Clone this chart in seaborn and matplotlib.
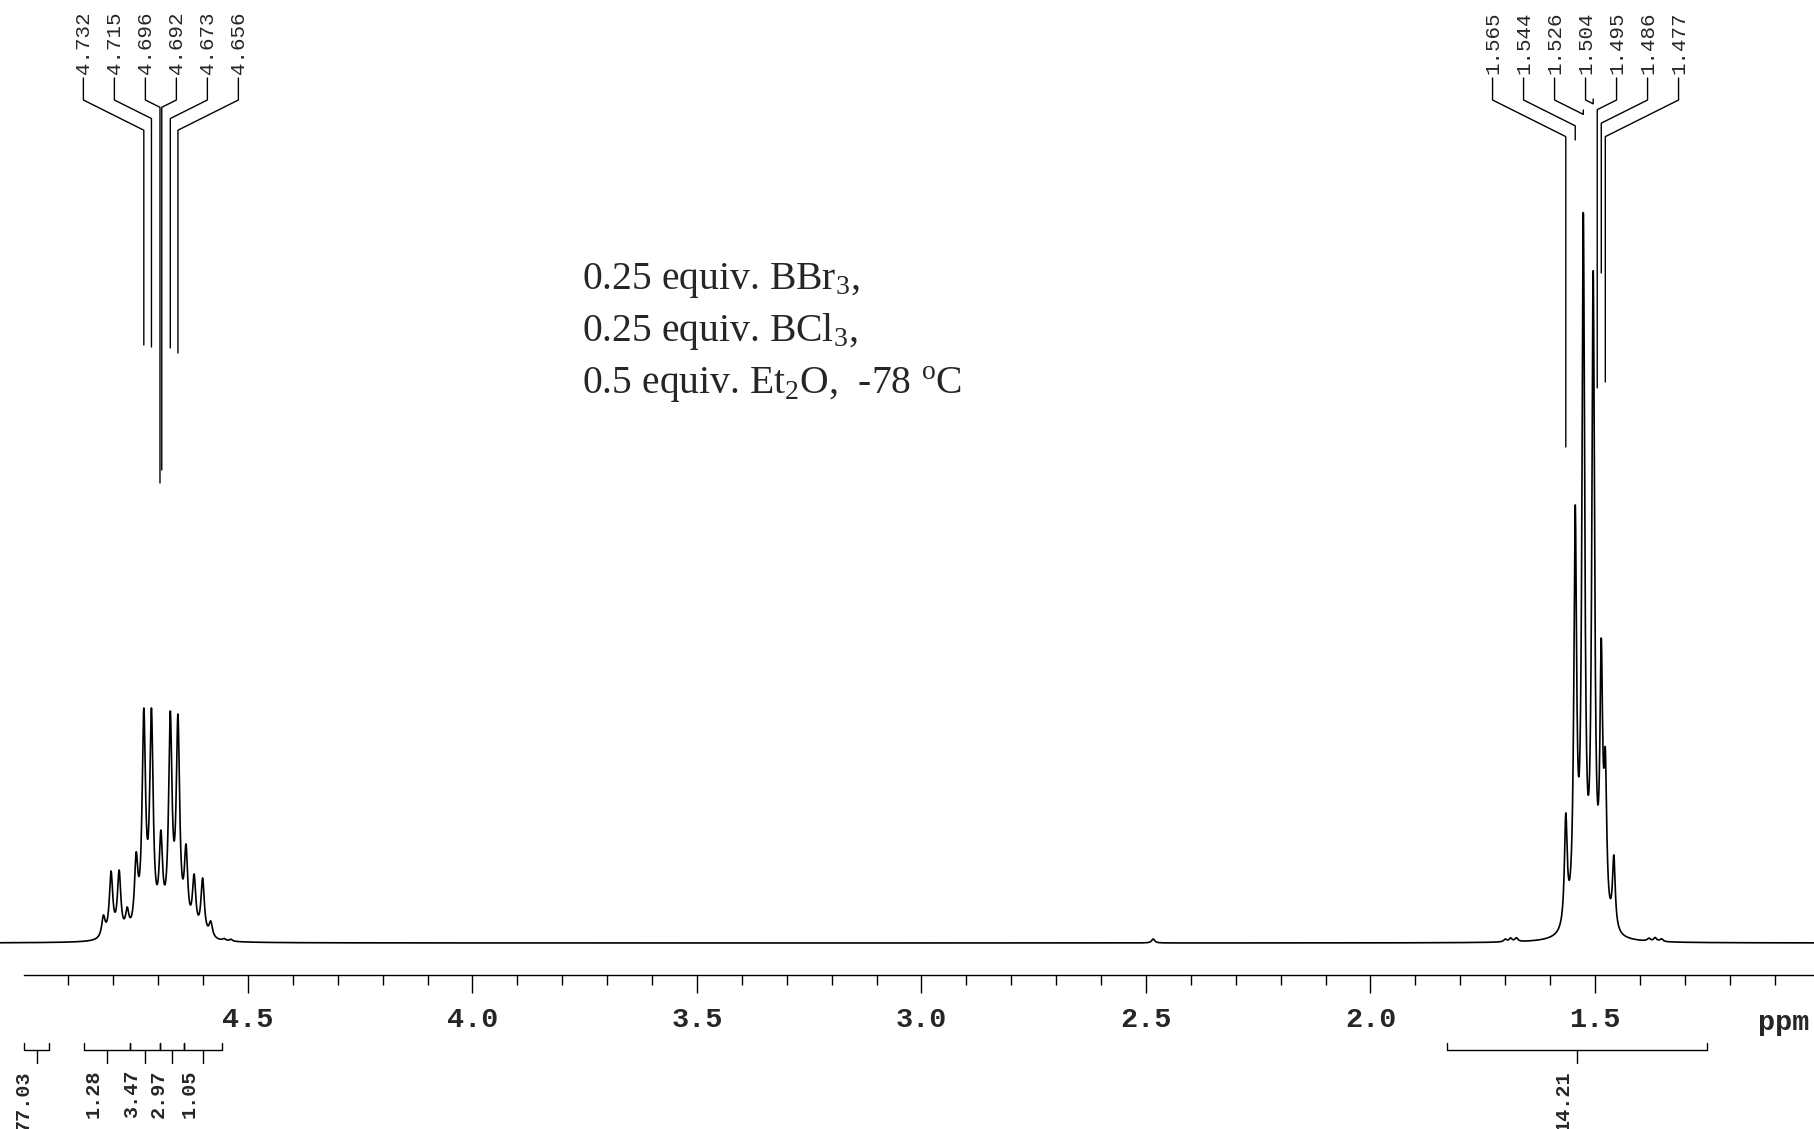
import numpy as np
import matplotlib.pyplot as plt
import seaborn as sns

sns.set_theme(style='white')
plt.rcParams['font.family'] = ['Liberation Mono', 'DejaVu Sans']
plt.rcParams['mathtext.fontset'] = 'custom'
plt.rcParams['mathtext.rm'] = 'Liberation Serif'
plt.rcParams['mathtext.default'] = 'rm'

# 4.7 ppm multiplet: peak positions (ppm) and apparent heights
ch_ppm = [4.822, 4.805, 4.787, 4.769, 4.749, 4.732, 4.715, 4.694, 4.673, 4.656, 4.638, 4.620, 4.601, 4.583]
ch_height = [28, 72, 73, 36, 91, 235, 235, 113, 232, 229, 99, 69, 65, 22]
ch_width = 0.0046

# 1.5 ppm multiplet
me_ppm = [1.565, 1.544, 1.526, 1.504, 1.486, 1.477, 1.458]
me_height = [130, 438, 731, 673, 305, 195, 88]
me_width = 0.0037

# small bumps on the baseline
minor_ppm = [4.553, 4.538, 2.484, 1.700, 1.688, 1.675, 1.380, 1.366, 1.352]
minor_height = [2, 2, 4, 3, 4, 4, 3, 4, 3]
minor_width = 0.004

# peak picking labels and how far down their leader lines reach
left_labels = ['4.732', '4.715', '4.696', '4.692', '4.673', '4.656']
left_leader_end = [598, 596, 460, 473, 595, 590]
right_labels = ['1.565', '1.544', '1.526', '1.504', '1.495', '1.486', '1.477']
right_leader_end = [496, 803, 833, 844, 555, 670, 561]

# integrals
int_from = [4.999, 4.865, 4.763, 4.696, 4.642, 1.830]
int_to = [4.943, 4.763, 4.696, 4.642, 4.558, 1.251]
int_value = ['77.03', '1.28', '3.47', '2.97', '1.05', '14.21']

major_ticks = [4.5, 4.0, 3.5, 3.0, 2.5, 2.0, 1.5]
major_labels = ['4.5', '4.0', '3.5', '3.0', '2.5', '2.0', '1.5']
minor_ticks = [4.9, 4.8, 4.7, 4.6, 4.4, 4.3, 4.2, 4.1, 3.9, 3.8, 3.7, 3.6, 3.4, 3.3, 3.2, 3.1,
               2.9, 2.8, 2.7, 2.6, 2.4, 2.3, 2.2, 2.1, 1.9, 1.8, 1.7, 1.6, 1.4, 1.3, 1.2, 1.1]

conditions = ['0.25 equiv. BBr$_3$,', '0.25 equiv. BCl$_3$,', '0.5 equiv. Et$_2$O,  -78 $^o$C']

PX_PER_PPM = 449.0


def lorentz_sum(x, ppm, height, width):
    p = np.array(ppm)
    h = np.array(height, dtype=float)
    m = 1 / (1 + ((p[:, None] - p[None, :]) / width) ** 2)
    amp = np.clip(np.linalg.solve(m, h), 0, None)
    return (amp[None, :] / (1 + ((x[:, None] - p[None, :]) / width) ** 2)).sum(axis=1)


x = np.linspace(5.0523, 1.010, 12000)
y = (lorentz_sum(x, ch_ppm, ch_height, ch_width)
     + lorentz_sum(x, me_ppm, me_height, me_width)
     + lorentz_sum(x, minor_ppm, minor_height, minor_width))

fig = plt.figure(figsize=(18.15, 11.29), dpi=100)
ax = fig.add_axes([0, 0, 1, 1])
ax.set_xlim(5.0523, 1.010)
ax.set_ylim(-186, 943)

sns.lineplot(x=x, y=y, ax=ax, color='black', lw=1.2, sort=False, estimator=None)

# axis
for s in ['top', 'left', 'right']:
    ax.spines[s].set_visible(False)
ax.spines['bottom'].set_position(('data', -32))
ax.spines['bottom'].set_bounds(1.010, 4.999)
ax.spines['bottom'].set_color('black')
ax.spines['bottom'].set_linewidth(1.0)
ax.set_xticks(major_ticks)
ax.set_xticklabels(major_labels)
ax.set_xticks(minor_ticks, minor=True)
ax.set_yticks([])
ax.tick_params(axis='x', which='major', direction='out', length=13, width=1.0, color='black',
               pad=10, labelsize=20.5, bottom=True)
ax.tick_params(axis='x', which='minor', direction='out', length=7.2, width=1.0, color='black', bottom=True)
for lab in ax.get_xticklabels():
    lab.set_fontweight('bold')
ax.text(1.079, -80, 'ppm', fontsize=20.5, fontweight='bold', ha='center', va='center')


def peak_labels(labels, ends):
    vals = [float(v) for v in labels]
    mid = (vals[0] + vals[-1]) / 2
    n = len(vals)
    for i, (v, end) in enumerate(zip(vals, ends)):
        lx = mid + (((n - 1) / 2) - i) * 31 / PX_PER_PPM
        ax.text(lx, 869, labels[i], rotation=90, ha='center', va='bottom', fontsize=15)
        drop = abs(lx - v) * PX_PER_PPM / 2
        ax.plot([lx, lx, v, v], [865, 843, 843 - drop, end], color='black', lw=1.0)


peak_labels(left_labels, left_leader_end)
peak_labels(right_labels, right_leader_end)

# integral brackets
for a, b, val in zip(int_from, int_to, int_value):
    mid = (a + b) / 2
    ax.plot([a, a, b, b], [-100, -107, -107, -100], color='black', lw=1.0)
    ax.plot([mid, mid], [-107, -120], color='black', lw=1.0)
    ax.text(mid + 0.03, -127, val, rotation=90, ha='center', va='top', fontsize=14.5, fontweight='bold')

for i, line in enumerate(conditions):
    ax.text(3.756, 654 - i * 52.5, line, family='Liberation Serif', fontsize=28.5, ha='left', va='baseline')

fig.savefig('out.png', dpi=100)
